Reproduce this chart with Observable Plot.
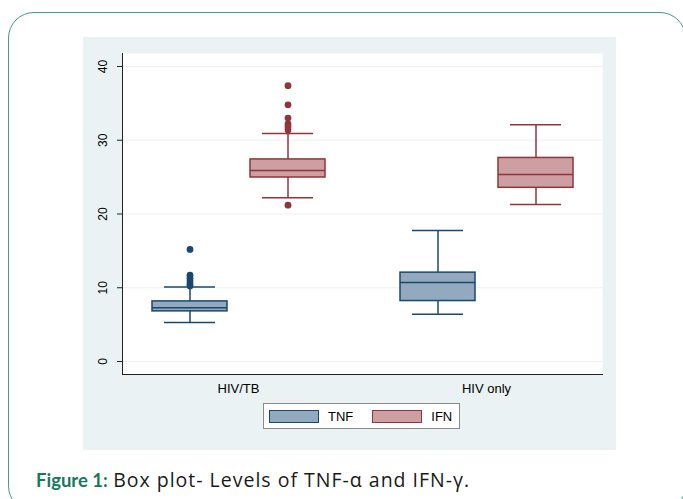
<!DOCTYPE html>
<html>
<head>
<meta charset="utf-8">
<script src="https://cdn.jsdelivr.net/npm/d3@7"></script>
<script src="https://cdn.jsdelivr.net/npm/@observablehq/plot@0.6"></script>
<style>
  html, body { margin: 0; padding: 0; background: #ffffff; }
  body { width: 683px; height: 499px; position: relative; overflow: hidden; font-family: "Liberation Sans", Arial, sans-serif; }
  #border { position: absolute; left: 8px; top: 12px; width: 678px; height: 500px; border: 1.5px solid #3f9e83; border-radius: 26px; box-sizing: border-box; }
  #panel { position: absolute; left: 83px; top: 37px; width: 533px; height: 413px; background: #eaf2f3; }
  #legend { margin-left: 180px; margin-top: 6px; width: 197px; height: 26px; box-sizing: border-box; border: 1px solid #8a8a8a; background: #fff; display: flex; align-items: center; font-size: 13px; color: #000; }
  .item { display: flex; align-items: center; margin-left: 5px; }
  .sw { width: 50px; height: 13px; box-sizing: border-box; border: 1.5px solid; margin-right: 9px; }
  #caption { position: absolute; left: 36px; top: 466px; font-size: 19px; color: #1a1a1a; white-space: nowrap; }
  #caption b { color: #17795e; font-family: Lato, sans-serif; font-size: 18.5px; }
  #caption span { font-family: "Open Sans", sans-serif; font-size: 19.5px; letter-spacing: 1px; }
</style>
</head>
<body>
<div id="border"></div>
<div id="panel"><div id="chart"></div><div id="legend"></div></div>
<div id="caption"><b>Figure 1:</b> <span>Box plot- Levels of TNF-α and IFN-γ.</span></div>
<script>
// Categories
const groupNames = ["HIV/TB", "HIV only"];
const seriesNames = ["TNF", "IFN"];
// Box summaries (one entry per group × series)
const boxGroup  = ["HIV/TB", "HIV/TB", "HIV only", "HIV only"];
const boxSeries = ["TNF", "IFN", "TNF", "IFN"];
const whiskerLow  = [5.3, 22.2, 6.4, 21.3];
const quartile1   = [6.8, 24.95, 8.2, 23.55];
const medianValue = [7.3, 25.9, 10.7, 25.35];
const quartile3   = [8.15, 27.4, 12.05, 27.6];
const whiskerHigh = [10.1, 30.9, 17.75, 32.1];
// Outside values
const outlierGroup  = ["HIV/TB","HIV/TB","HIV/TB","HIV/TB","HIV/TB","HIV/TB","HIV/TB","HIV/TB","HIV/TB","HIV/TB","HIV/TB","HIV/TB","HIV/TB"];
const outlierSeries = ["TNF","TNF","TNF","TNF","TNF","TNF","IFN","IFN","IFN","IFN","IFN","IFN","IFN"];
const outlierValue  = [15.2, 11.7, 11.3, 10.9, 10.5, 10.25, 37.4, 34.8, 33.0, 32.2, 31.8, 31.4, 21.2];
// Axis ticks
const yTicks = [0, 10, 20, 30, 40];
// Colours
const fillColors = ["#93a9be", "#cd9fa2"];
const strokeColors = ["#1a476f", "#90353b"];

const fillOf = s => fillColors[seriesNames.indexOf(s)];
const strokeOf = s => strokeColors[seriesNames.indexOf(s)];

const boxes = boxGroup.map((g, i) => ({
  group: g, series: boxSeries[i],
  lo: whiskerLow[i], q1: quartile1[i], med: medianValue[i], q3: quartile3[i], hi: whiskerHigh[i]
}));
const outliers = outlierValue.map((v, i) => ({group: outlierGroup[i], series: outlierSeries[i], value: v}));

const sw = 1.5;
const chart = Plot.plot({
  width: 533,
  height: 360,
  marginLeft: 39,
  marginRight: 14,
  marginTop: 16,
  marginBottom: 23,
  style: {fontFamily: "'Liberation Sans', Arial, sans-serif", fontSize: "12px", background: "transparent", color: "#000", overflow: "visible"},
  fx: {domain: groupNames, paddingInner: 0.065, paddingOuter: 0, label: null, axis: null},
  x: {domain: seriesNames, paddingInner: 0.235, paddingOuter: 0.301, axis: null},
  y: {domain: [-1.76, 41.76], label: null},
  color: {type: "identity"},
  marks: [
    Plot.frame({fill: "white", stroke: null, facet: "super"}),
    Plot.ruleY(yTicks, {stroke: "#eaf2f3", strokeWidth: 1, insetLeft: -9, insetRight: -9}),
    Plot.frame({anchor: "bottom", stroke: "#222", strokeWidth: 1, facet: "super"}),
    Plot.frame({anchor: "left", stroke: "#222", strokeWidth: 1, facet: "super"}),
    Plot.axisY({ticks: yTicks, tickRotate: -90, tickSize: 5, tickPadding: 11, label: null, stroke: "#222", fontSize: 12}),
    Plot.axisFx({anchor: "bottom", tickSize: 0, tickPadding: 9, label: null, fontSize: 13}),
    Plot.ruleX(boxes, {fx: "group", x: "series", y1: "q3", y2: "hi", stroke: d => strokeOf(d.series), strokeWidth: sw}),
    Plot.ruleX(boxes, {fx: "group", x: "series", y1: "lo", y2: "q1", stroke: d => strokeOf(d.series), strokeWidth: sw}),
    Plot.tickY(boxes, {fx: "group", x: "series", y: "hi", stroke: d => strokeOf(d.series), strokeWidth: sw, inset: 12}),
    Plot.tickY(boxes, {fx: "group", x: "series", y: "lo", stroke: d => strokeOf(d.series), strokeWidth: sw, inset: 12}),
    Plot.barY(boxes, {fx: "group", x: "series", y1: "q1", y2: "q3", fill: d => fillOf(d.series), stroke: d => strokeOf(d.series), strokeWidth: sw}),
    Plot.tickY(boxes, {fx: "group", x: "series", y: "med", stroke: d => strokeOf(d.series), strokeWidth: sw}),
    Plot.dot(outliers, {fx: "group", x: "series", y: "value", fill: d => strokeOf(d.series), r: 3.4})
  ]
});
document.getElementById("chart").appendChild(chart);

const legend = document.getElementById("legend");
seriesNames.forEach((s, i) => {
  const item = document.createElement("div");
  item.className = "item";
  if (i > 0) item.style.marginLeft = "19px";
  const box = document.createElement("div");
  box.className = "sw";
  box.style.background = fillColors[i];
  box.style.borderColor = strokeColors[i];
  const label = document.createElement("span");
  label.textContent = s;
  item.appendChild(box);
  item.appendChild(label);
  legend.appendChild(item);
});
</script>
</body>
</html>
